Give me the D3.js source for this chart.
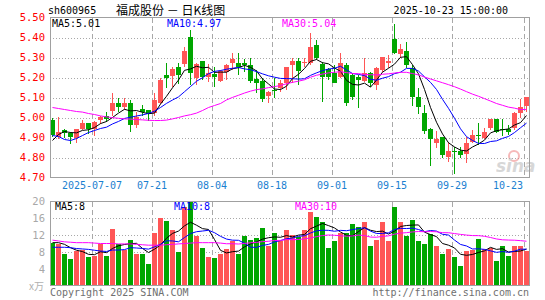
<!DOCTYPE html>
<html>
<head>
<meta charset="utf-8">
<script src="https://cdn.jsdelivr.net/npm/d3@7"></script>
<style>
  html, body { margin: 0; padding: 0; background: #fff; }
  svg { display: block; }
  text { font-family: "DejaVu Sans Mono", monospace; }
</style>
</head>
<body>
<div id="chart"></div>
<script>
// data
const dates = [
    "2025-06-26", "2025-06-27", "2025-06-30", "2025-07-01", "2025-07-02", "2025-07-03", "2025-07-04", "2025-07-07", "2025-07-08", "2025-07-09",
    "2025-07-10", "2025-07-11", "2025-07-14", "2025-07-15", "2025-07-16", "2025-07-17", "2025-07-18", "2025-07-21", "2025-07-22", "2025-07-23",
    "2025-07-24", "2025-07-25", "2025-07-28", "2025-07-29", "2025-07-30", "2025-07-31", "2025-08-01", "2025-08-04", "2025-08-05", "2025-08-06",
    "2025-08-07", "2025-08-08", "2025-08-11", "2025-08-12", "2025-08-13", "2025-08-14", "2025-08-15", "2025-08-18", "2025-08-19", "2025-08-20",
    "2025-08-21", "2025-08-22", "2025-08-25", "2025-08-26", "2025-08-27", "2025-08-28", "2025-08-29", "2025-09-01", "2025-09-02", "2025-09-03",
    "2025-09-04", "2025-09-05", "2025-09-08", "2025-09-09", "2025-09-10", "2025-09-11", "2025-09-12", "2025-09-15", "2025-09-16", "2025-09-17",
    "2025-09-18", "2025-09-19", "2025-09-22", "2025-09-23", "2025-09-24", "2025-09-25", "2025-09-26", "2025-09-29", "2025-09-30", "2025-10-09",
    "2025-10-10", "2025-10-13", "2025-10-14", "2025-10-15", "2025-10-16", "2025-10-17", "2025-10-20", "2025-10-21", "2025-10-22", "2025-10-23"
];

const opens = [
    4.99, 4.905, 4.94, 4.925, 4.90, 4.945, 4.975, 4.945, 4.99, 5.01,
    5.035, 5.075, 5.055, 5.075, 4.965, 5.045, 5.04, 5.025, 5.075, 5.215,
    5.21, 5.255, 5.267, 5.405, 5.197, 5.283, 5.205, 5.217, 5.183, 5.23,
    5.272, 5.272, 5.272, 5.263, 5.192, 5.185, 5.11, 5.14, 5.147, 5.172,
    5.263, 5.285, 5.272, 5.275, 5.363, 5.267, 5.242, 5.222, 5.205, 5.263,
    5.213, 5.205, 5.185, 5.222, 5.163, 5.238, 5.272, 5.392, 5.318, 5.333,
    5.247, 5.105, 5.022, 4.943, 4.875, 4.905, 4.805, 4.835, 4.835, 4.817,
    4.877, 4.915, 4.90, 4.947, 4.993, 4.943, 4.943, 4.947, 5.025, 5.06
];

const closes = [
    4.913, 4.93, 4.925, 4.905, 4.943, 4.975, 4.945, 4.98, 5.005, 4.995,
    5.075, 5.055, 5.075, 4.965, 5.005, 5.03, 5.02, 5.09, 5.19, 5.20,
    5.243, 5.213, 5.333, 5.225, 5.267, 5.205, 5.225, 5.205, 5.233, 5.263,
    5.293, 5.252, 5.262, 5.185, 5.172, 5.093, 5.127, 5.135, 5.172, 5.255,
    5.285, 5.233, 5.28, 5.352, 5.30, 5.205, 5.205, 5.175, 5.272, 5.072,
    5.105, 5.188, 5.222, 5.172, 5.247, 5.305, 5.285, 5.325, 5.343, 5.263,
    5.105, 5.055, 4.935, 4.893, 4.893, 4.813, 4.835, 4.83, 4.813, 4.872,
    4.913, 4.91, 4.927, 4.993, 4.927, 4.937, 4.93, 5.025, 5.053, 5.105
];

const highs = [
    5.00, 5.005, 4.945, 4.93, 4.945, 4.99, 4.975, 4.985, 5.01, 5.03,
    5.125, 5.10, 5.10, 5.09, 5.03, 5.065, 5.04, 5.125, 5.20, 5.275,
    5.255, 5.272, 5.355, 5.44, 5.272, 5.283, 5.267, 5.255, 5.238, 5.267,
    5.325, 5.322, 5.292, 5.297, 5.238, 5.197, 5.133, 5.20, 5.188, 5.255,
    5.30, 5.297, 5.30, 5.422, 5.39, 5.28, 5.25, 5.265, 5.322, 5.272,
    5.222, 5.213, 5.297, 5.23, 5.255, 5.305, 5.313, 5.47, 5.37, 5.38,
    5.263, 5.147, 5.063, 4.947, 4.933, 4.905, 4.88, 4.855, 4.855, 4.905,
    4.938, 4.973, 4.947, 4.993, 4.993, 4.993, 4.963, 5.03, 5.093, 5.105
];

const lows = [
    4.905, 4.895, 4.90, 4.87, 4.875, 4.94, 4.92, 4.91, 4.97, 4.98,
    5.01, 5.03, 5.04, 4.93, 4.95, 5.01, 4.985, 5.01, 5.07, 5.15,
    5.155, 5.17, 5.255, 5.163, 5.163, 5.19, 5.18, 5.155, 5.18, 5.188,
    5.238, 5.213, 5.23, 5.172, 5.122, 5.08, 5.072, 5.097, 5.13, 5.14,
    5.172, 5.163, 5.255, 5.265, 5.29, 5.08, 5.19, 5.172, 5.197, 5.06,
    5.09, 5.047, 5.18, 5.155, 5.138, 5.23, 5.247, 5.317, 5.297, 5.247,
    5.058, 5.018, 4.92, 4.76, 4.847, 4.80, 4.78, 4.72, 4.797, 4.772,
    4.872, 4.863, 4.893, 4.938, 4.922, 4.91, 4.913, 4.938, 5.00, 5.03
];

// volume, 10k lots
const volumes = [
    10.1, 10.0, 7.4, 6.4, 8.1, 8.5, 6.7, 7.0, 9.9, 7.0,
    13.5, 9.9, 8.5, 10.9, 7.4, 7.4, 5.1, 12.4, 16.0, 15.4,
    13.1, 7.9, 18.6, 20.3, 11.9, 9.0, 6.9, 6.65, 7.4, 8.8,
    10.5, 7.6, 11.7, 10.9, 11.2, 13.8, 9.3, 12.6, 10.5, 13.3,
    12.1, 11.5, 13.3, 17.4, 16.4, 15.2, 9.0, 10.5, 12.6, 12.4,
    14.7, 14.0, 15.2, 9.5, 10.8, 15.2, 10.5, 18.6, 15.2, 11.9,
    15.7, 10.7, 10.0, 12.3, 9.5, 7.5, 8.7, 6.7, 4.75, 8.3,
    8.5, 11.1, 8.6, 8.9, 5.9, 9.3, 7.1, 9.3, 9.5, 8.2
];

// averages before enough days are on screen
const ma5_head = [4.885, 4.915, 4.93, 4.925];
const ma10_head = [4.91, 4.905, 4.89, 4.885, 4.895, 4.91, 4.925, 4.935, 4.945];
const ma30_head = [
    5.05, 5.045, 5.04, 5.035, 5.03, 5.027, 5.02, 5.015, 5.008, 5.003,
    4.999, 4.996, 4.993, 4.992, 4.99, 4.988, 4.986, 4.985, 4.985, 4.987,
    4.993, 5.0, 5.008, 5.014, 5.022, 5.035, 5.05, 5.06, 5.07
];
const vma5_head = [10.2, 10.2, 9.8, 9.0];
const vma10_head = [9.1, 9.1, 9.1, 9.0, 8.8, 8.7, 8.6, 8.4, 8.2];
const vma30_head = [
    10.8, 10.6, 10.4, 10.3, 10.2, 10.2, 10.2, 10.1, 10.0, 10.0,
    10.0, 9.9, 9.9, 9.9, 9.8, 9.7, 9.6, 9.6, 9.6, 9.7,
    9.8, 9.9, 10.0, 10.1, 10.2, 10.2, 10.2, 10.2, 10.1
];

const price_ticks = [5.50, 5.40, 5.30, 5.20, 5.10, 5.00, 4.90, 4.80, 4.70];
const volume_ticks = [20, 16, 12, 8, 4];
const date_ticks = ["2025-07-07", "2025-07-21", "2025-08-04", "2025-08-18", "2025-09-01", "2025-09-15", "2025-09-29", "2025-10-23"];

// cons
const w = 545;
const h = 300;
const red = "#ff5656";
const green = "#00a600";
const grid_color = "#a8a8a8";
const border_color = "#a0a0a0";

// moving average, falls back on the head values at the start
function moving_average(values, n, head) {
    return values.map((v, i) => {
        if (i < n - 1) return head[i];
        return d3.mean(values.slice(i - n + 1, i + 1));
    });
}

const rows = dates.map((d, i) => ({
    date: d,
    open: opens[i],
    close: closes[i],
    high: highs[i],
    low: lows[i],
    volume: volumes[i]
}));

const ma_price = [
    { key: "MA5", color: "#000000", values: moving_average(closes, 5, ma5_head) },
    { key: "MA10", color: "#0000ff", values: moving_average(closes, 10, ma10_head) },
    { key: "MA30", color: "#ff00ff", values: moving_average(closes, 30, ma30_head) }
];
const ma_volume = [
    { key: "MA5", color: "#000000", values: moving_average(volumes, 5, vma5_head) },
    { key: "MA10", color: "#0000ff", values: moving_average(volumes, 10, vma10_head) },
    { key: "MA30", color: "#ff00ff", values: moving_average(volumes, 30, vma30_head) }
];

// scales
const x = d3.scaleBand().domain(dates).range([50, 530]);
const y = d3.scaleLinear().domain([4.70, 5.50]).range([177.5, 17.5]);
const yv = d3.scaleLinear().domain([0, 20]).range([285.5, 201.5]);
const cx = (d) => x(d) + 2.5; // candle middle

const svg = d3.select("#chart")
    .append("svg")
    .attr("width", w)
    .attr("height", h);

const defs = svg.append("defs");
defs.append("clipPath").attr("id", "clip-price")
    .append("rect").attr("x", 50).attr("y", 18).attr("width", 480).attr("height", 160);
defs.append("clipPath").attr("id", "clip-volume")
    .append("rect").attr("x", 50).attr("y", 202).attr("width", 480).attr("height", 84);

// header
svg.append("text")
    .attr("x", 48).attr("y", 14)
    .attr("font-size", 10)
    .text("sh600965");
svg.append("text")
    .attr("x", 116).attr("y", 15)
    .attr("font-size", 12)
    .style("font-family", "'Noto Sans CJK SC', sans-serif")
    .attr("xml:space", "preserve")
    .text("福成股份 － 日K线图");
svg.append("text")
    .attr("x", 508).attr("y", 14)
    .attr("font-size", 10)
    .attr("text-anchor", "end")
    .text("2025-10-23 15:00:00");

// horizontal grid, price
svg.append("g")
    .attr("transform", "translate(50,0)")
    .call(d3.axisRight(y).tickValues(price_ticks.slice(1, -1)).tickSize(479).tickFormat(""))
    .call((g) => g.select(".domain").remove())
    .selectAll("line")
    .attr("stroke", grid_color)
    .attr("stroke-dasharray", "1,2")
    .attr("shape-rendering", "crispEdges");

// horizontal grid, volume
svg.append("g")
    .attr("transform", "translate(50,0)")
    .call(d3.axisRight(yv).tickValues(volume_ticks.slice(1)).tickSize(479).tickFormat(""))
    .call((g) => g.select(".domain").remove())
    .selectAll("line")
    .attr("stroke", grid_color)
    .attr("stroke-dasharray", "1,2")
    .attr("shape-rendering", "crispEdges");

// vertical dashed grid on both panels
[[18, 177], [202, 285]].forEach(([y0, y1]) => {
    svg.append("g")
        .selectAll("line")
        .data(date_ticks)
        .join("line")
        .attr("x1", (d) => x(d) + 0.5)
        .attr("x2", (d) => x(d) + 0.5)
        .attr("y1", y0)
        .attr("y2", y1)
        .attr("stroke", grid_color)
        .attr("stroke-dasharray", "5,3")
        .attr("shape-rendering", "crispEdges");
});

// price labels
svg.append("g")
    .attr("transform", "translate(50,0)")
    .call(d3.axisLeft(y).tickValues(price_ticks).tickFormat(d3.format(".2f")).tickSize(0).tickPadding(5))
    .call((g) => g.select(".domain").remove())
    .selectAll("text")
    .attr("fill", "#ff0000")
    .attr("font-size", 10.5)
    .style("font-family", "'DejaVu Sans Mono', monospace");

// volume labels
svg.append("g")
    .attr("transform", "translate(50,0)")
    .call(d3.axisLeft(yv).tickValues(volume_ticks).tickSize(0).tickPadding(5))
    .call((g) => g.select(".domain").remove())
    .selectAll("text")
    .attr("fill", "#a8a8a8")
    .attr("font-size", 10.5)
    .style("font-family", "'DejaVu Sans Mono', monospace");

svg.append("text")
    .attr("x", 44).attr("y", 290)
    .attr("font-size", 10)
    .attr("text-anchor", "end")
    .attr("fill", "#b0b0b0")
    .style("font-family", "'Noto Sans CJK SC', sans-serif")
    .text("x万");

// date labels
svg.append("g")
    .selectAll("text")
    .data(date_ticks)
    .join("text")
    .attr("x", (d, i) => i === date_ticks.length - 1 ? x(d) - 1 : x(d))
    .attr("y", 189)
    .attr("font-size", 10)
    .attr("fill", "#1a80d0")
    .attr("text-anchor", (d, i) => i === date_ticks.length - 1 ? "end" : "middle")
    .text((d, i) => i === 0 ? d : d.slice(5));

// sina watermark
const mark = svg.append("g").attr("opacity", 0.55);
mark.append("circle")
    .attr("cx", 514).attr("cy", 156).attr("r", 5)
    .attr("fill", "none").attr("stroke", "#f08080").attr("stroke-width", 2);
mark.append("text")
    .attr("x", 496).attr("y", 172)
    .attr("font-size", 17)
    .attr("font-weight", "bold")
    .attr("font-style", "italic")
    .attr("fill", "#b8b8b8")
    .style("font-family", "'DejaVu Sans', sans-serif")
    .text("sina");

// candles
const price_layer = svg.append("g").attr("clip-path", "url(#clip-price)");
const candle = price_layer.selectAll("g.candle")
    .data(rows)
    .join("g")
    .attr("class", "candle");

candle.append("line")
    .attr("x1", (d) => cx(d.date))
    .attr("x2", (d) => cx(d.date))
    .attr("y1", (d) => y(d.high))
    .attr("y2", (d) => y(d.low))
    .attr("stroke", (d) => d.close >= d.open ? red : green)
    .attr("shape-rendering", "crispEdges");

candle.append("rect")
    .attr("x", (d) => x(d.date))
    .attr("width", 5)
    .attr("y", (d) => y(Math.max(d.open, d.close)))
    .attr("height", (d) => Math.max(1, Math.abs(y(d.open) - y(d.close))))
    .attr("fill", (d) => d.close >= d.open ? red : green)
    .attr("shape-rendering", "crispEdges");

// price averages
ma_price.forEach((m) => {
    price_layer.append("path")
        .datum(m.values)
        .attr("fill", "none")
        .attr("stroke", m.color)
        .attr("stroke-width", 1)
        .attr("d", d3.line().x((v, i) => cx(dates[i])).y((v) => y(v)));
});

// volume bars
const volume_layer = svg.append("g").attr("clip-path", "url(#clip-volume)");
volume_layer.selectAll("rect")
    .data(rows)
    .join("rect")
    .attr("x", (d) => x(d.date))
    .attr("width", 5)
    .attr("y", (d) => yv(d.volume))
    .attr("height", (d) => yv(0) - yv(d.volume))
    .attr("fill", (d) => d.close >= d.open ? red : green)
    .attr("shape-rendering", "crispEdges");

ma_volume.forEach((m) => {
    volume_layer.append("path")
        .datum(m.values)
        .attr("fill", "none")
        .attr("stroke", m.color)
        .attr("stroke-width", 1)
        .attr("d", d3.line().x((v, i) => cx(dates[i])).y((v) => yv(v)));
});

// panel borders
[[17.5, 160], [201.5, 84]].forEach(([top, height]) => {
    svg.append("rect")
        .attr("x", 50.5).attr("y", top)
        .attr("width", 479).attr("height", height)
        .attr("fill", "none")
        .attr("stroke", border_color)
        .attr("shape-rendering", "crispEdges");
});

// legends
const last = (arr) => arr[arr.length - 1];
const price_legend_x = [52, 167, 282];
ma_price.forEach((m, i) => {
    svg.append("text")
        .attr("x", price_legend_x[i]).attr("y", 27)
        .attr("font-size", 10)
        .attr("fill", m.color)
        .text(m.key + ":" + last(m.values).toFixed(2));
});
const volume_legend_x = [55, 174, 295];
ma_volume.forEach((m, i) => {
    svg.append("text")
        .attr("x", volume_legend_x[i]).attr("y", 210)
        .attr("font-size", 10)
        .attr("fill", m.color)
        .text(m.key + ":" + Math.floor(last(m.values)));
});

// footer
svg.append("text")
    .attr("x", 50).attr("y", 296)
    .attr("font-size", 10)
    .attr("fill", "#707070")
    .text("Copyright 2025 SINA.COM");
svg.append("text")
    .attr("x", 529).attr("y", 296)
    .attr("font-size", 10)
    .attr("fill", "#707070")
    .attr("text-anchor", "end")
    .text("http://finance.sina.com.cn");
</script>
</body>
</html>
